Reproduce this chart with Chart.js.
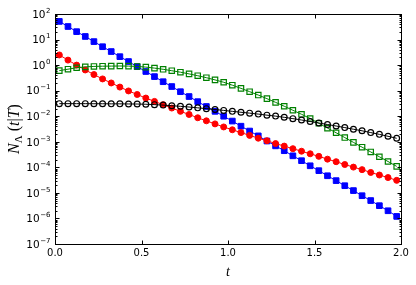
<!DOCTYPE html>
<html>
<head>
<meta charset="utf-8">
<script src="https://cdn.jsdelivr.net/npm/chart.js@4.4.0/dist/chart.umd.min.js"></script>
<style>
  html, body { margin: 0; padding: 0; background: #fff; }
  #wrap { width: 416px; height: 285px; position: relative; }
</style>
</head>
<body>
<div id="wrap"><canvas id="chart"></canvas></div>
<script>
// sample times (t)
let tValues = [
  0.025, 0.075, 0.125, 0.175, 0.225, 0.275, 0.325, 0.375, 0.425, 0.475,
  0.525, 0.575, 0.625, 0.675, 0.725, 0.775, 0.825, 0.875, 0.925, 0.975,
  1.025, 1.075, 1.125, 1.175, 1.225, 1.275, 1.325, 1.375, 1.425, 1.475,
  1.525, 1.575, 1.625, 1.675, 1.725, 1.775, 1.825, 1.875, 1.925, 1.975
];

// filled blue squares
let blueSeries = [
  51.3, 32.4, 20.4, 13.2, 8.32, 5.25, 3.39, 2.14, 1.38, 0.871,
  0.562, 0.355, 0.224, 0.145, 0.0912, 0.0589, 0.0372, 0.0240, 0.0155, 0.0100,
  0.00646, 0.00407, 0.00263, 0.00170, 0.00107, 6.92e-4, 4.47e-4, 2.82e-4, 1.82e-4, 1.15e-4,
  7.41e-5, 4.68e-5, 3.02e-5, 1.91e-5, 1.23e-5, 7.76e-6, 5.01e-6, 3.16e-6, 2.00e-6, 1.20e-6
];

// filled red circles
let redSeries = [
  2.50, 1.57, 1.00, 0.646, 0.427, 0.288, 0.200, 0.138, 0.0977, 0.0708,
  0.0513, 0.0380, 0.0282, 0.0209, 0.0155, 0.0117, 0.00871, 0.00661, 0.00501, 0.00380,
  0.00295, 0.00229, 0.00178, 0.00138, 0.00110, 8.51e-4, 6.76e-4, 5.37e-4, 4.27e-4, 3.39e-4,
  2.69e-4, 2.09e-4, 1.66e-4, 1.29e-4, 1.02e-4, 8.13e-5, 6.31e-5, 5.01e-5, 3.98e-5, 3.09e-5
];

// open green squares
let greenSeries = [
  0.610, 0.692, 0.791, 0.851, 0.889, 0.906, 0.914, 0.923, 0.914, 0.889,
  0.836, 0.764, 0.686, 0.604, 0.528, 0.453, 0.385, 0.322, 0.264, 0.213,
  0.164, 0.123, 0.0914, 0.0673, 0.0487, 0.0349, 0.0246, 0.0171, 0.0119, 0.00813,
  0.00528, 0.00343, 0.00225, 0.00146, 9.48e-4, 6.15e-4, 4.00e-4, 2.59e-4, 1.69e-4, 1.09e-4
];

// open black circles
let blackSeries = [
  0.0310, 0.0310, 0.0310, 0.0310, 0.0308, 0.0308, 0.0305, 0.0305, 0.0302, 0.0300,
  0.0294, 0.0284, 0.0272, 0.0257, 0.0244, 0.0229, 0.0213, 0.0198, 0.0183, 0.0169,
  0.0155, 0.0143, 0.0132, 0.0121, 0.0110, 0.0101, 0.00906, 0.00805, 0.00711, 0.00621,
  0.00542, 0.00474, 0.00414, 0.00359, 0.00310, 0.00269, 0.00229, 0.00195, 0.00164, 0.00137
];

let xTicks = [0, 0.5, 1.0, 1.5, 2.0];
let xTickLabels = ["0.0", "0.5", "1.0", "1.5", "2.0"];
let yExponents = [-7, -6, -5, -4, -3, -2, -1, 0, 1, 2];

function pts(vals) {
  return tValues.map(function (t, i) { return { x: t, y: vals[i] }; });
}

// matplotlib-like frame, inward ticks and labels
const axesBox = {
  id: "axesBox",
  afterDatasetsDraw(chart) {
    let ctx = chart.ctx;
    let a = chart.chartArea;
    let sx = chart.scales.x, sy = chart.scales.y;
    let L = Math.round(a.left) + 0.5, R = Math.round(a.right) + 0.5;
    let T = Math.round(a.top) + 0.5, B = Math.round(a.bottom) + 0.5;

    ctx.save();
    ctx.strokeStyle = "#000";
    ctx.lineWidth = 1;
    ctx.strokeRect(L, T, R - L, B - T);

    ctx.beginPath();
    for (let v of xTicks) {
      let px = Math.round(sx.getPixelForValue(v)) + 0.5;
      ctx.moveTo(px, B); ctx.lineTo(px, B - 4);
      ctx.moveTo(px, T); ctx.lineTo(px, T + 4);
    }
    for (let e of yExponents) {
      let py = Math.round(sy.getPixelForValue(Math.pow(10, e))) + 0.5;
      ctx.moveTo(L, py); ctx.lineTo(L + 4, py);
      ctx.moveTo(R, py); ctx.lineTo(R - 4, py);
      if (e < 2) {
        for (let m = 2; m < 10; m++) {
          let q = Math.round(sy.getPixelForValue(m * Math.pow(10, e))) + 0.5;
          ctx.moveTo(L, q); ctx.lineTo(L + 2, q);
          ctx.moveTo(R, q); ctx.lineTo(R - 2, q);
        }
      }
    }
    ctx.stroke();

    ctx.fillStyle = "#000";
    ctx.font = "10px 'DejaVu Sans'";
    ctx.textAlign = "center";
    ctx.textBaseline = "top";
    xTicks.forEach(function (v, i) {
      ctx.fillText(xTickLabels[i], sx.getPixelForValue(v), a.bottom + 4);
    });

    ctx.textAlign = "left";
    ctx.textBaseline = "middle";
    for (let e of yExponents) {
      let py = sy.getPixelForValue(Math.pow(10, e));
      let sup = e < 0 ? "\u2212" + (-e) : String(e);
      ctx.font = "7px 'DejaVu Sans'";
      let sw = ctx.measureText(sup).width;
      ctx.font = "10.5px 'DejaVu Sans'";
      let bw = ctx.measureText("10").width;
      let x0 = a.left - 5 - sw - bw;
      ctx.fillText("10", x0, py + 1);
      ctx.font = "7px 'DejaVu Sans'";
      ctx.fillText(sup, x0 + bw + 0.5, py - 3);
    }

    // x title
    ctx.font = "italic 14px 'Liberation Serif'";
    ctx.textAlign = "center";
    ctx.fillText("t", (a.left + a.right) / 2, a.bottom + 28);

    // y title  N_Λ (t|T)
    ctx.translate(15, (a.top + a.bottom) / 2);
    ctx.rotate(-Math.PI / 2);
    let parts = [
      { s: "N", f: "italic 16px 'Liberation Serif'", dy: 0 },
      { s: "\u039B", f: "11px 'Liberation Serif'", dy: 4 },
      { s: " (", f: "16px 'Liberation Serif'", dy: 0 },
      { s: "t", f: "italic 16px 'Liberation Serif'", dy: 0 },
      { s: "|", f: "16px 'Liberation Serif'", dy: 0 },
      { s: "T", f: "italic 16px 'Liberation Serif'", dy: 0 },
      { s: ")", f: "16px 'Liberation Serif'", dy: 0 }
    ];
    let total = 0;
    for (let p of parts) { ctx.font = p.f; p.w = ctx.measureText(p.s).width; total += p.w; }
    let cx = -total / 2;
    ctx.textAlign = "left";
    for (let p of parts) {
      ctx.font = p.f;
      ctx.fillText(p.s, cx, p.dy);
      cx += p.w;
    }
    ctx.restore();
  }
};

let ctx = document.getElementById("chart").getContext("2d");

new Chart(ctx, {
  type: "line",
  data: {
    datasets: [
      {
        label: "black", data: pts(blackSeries), order: 0,
        borderColor: "#000000", borderWidth: 1,
        pointStyle: "circle", pointRadius: 2.9, pointBorderWidth: 1.2,
        pointBorderColor: "#000000", pointBackgroundColor: "rgba(0,0,0,0)"
      },
      {
        label: "green", data: pts(greenSeries), order: 1,
        borderColor: "#008000", borderWidth: 1,
        pointStyle: "rect", pointRadius: 3.8, pointBorderWidth: 1.2,
        pointBorderColor: "#008000", pointBackgroundColor: "rgba(0,0,0,0)"
      },
      {
        label: "red", data: pts(redSeries), order: 2,
        borderColor: "#ff0000", borderWidth: 1,
        pointStyle: "circle", pointRadius: 3.0, pointBorderWidth: 1,
        pointBorderColor: "#ff0000", pointBackgroundColor: "#ff0000"
      },
      {
        label: "blue", data: pts(blueSeries), order: 3,
        borderColor: "#0000ff", borderWidth: 1,
        pointStyle: "rect", pointRadius: 4.0, pointBorderWidth: 1,
        pointBorderColor: "#0000ff", pointBackgroundColor: "#0000ff"
      }
    ]
  },
  options: {
    responsive: true,
    maintainAspectRatio: false,
    animation: false,
    events: [],
    layout: { padding: { left: 55, top: 14, right: 15, bottom: 41 } },
    elements: { line: { tension: 0 } },
    plugins: { legend: { display: false }, tooltip: { enabled: false } },
    scales: {
      x: {
        type: "linear", min: 0, max: 2,
        ticks: { display: false },
        grid: { display: false, drawTicks: false },
        border: { display: false },
        afterFit: function (s) { s.height = 0; }
      },
      y: {
        type: "logarithmic", min: 1e-7, max: 1e2,
        ticks: { display: false },
        grid: { display: false, drawTicks: false },
        border: { display: false },
        afterFit: function (s) { s.width = 0; }
      }
    }
  },
  plugins: [axesBox]
});
</script>
</body>
</html>
